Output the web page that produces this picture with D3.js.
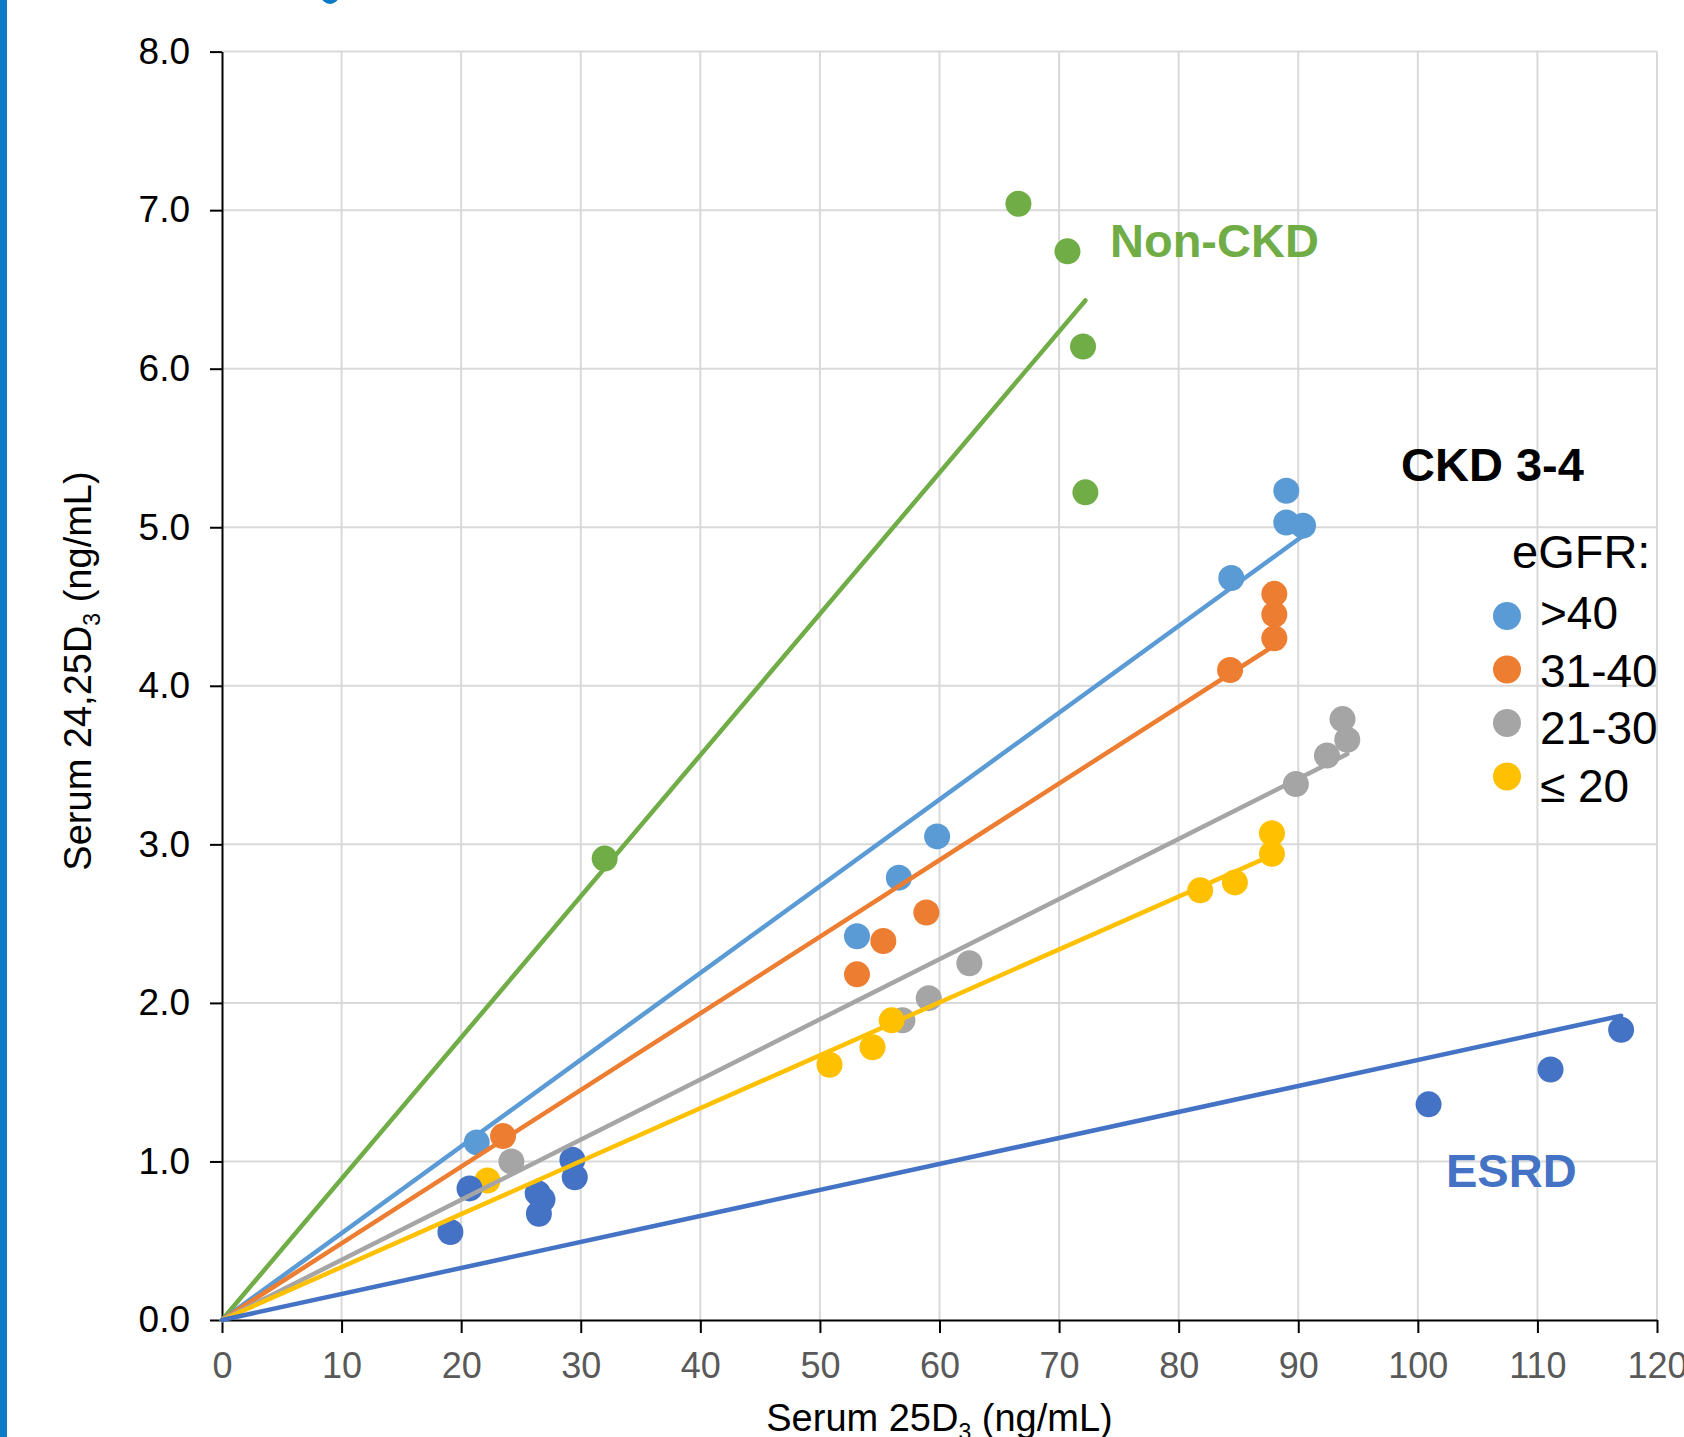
<!DOCTYPE html>
<html>
<head>
<meta charset="utf-8">
<script src="https://cdn.jsdelivr.net/npm/d3@7"></script>
<style>
  html, body { margin: 0; padding: 0; background: #fff; }
  svg { display: block; font-family: "Liberation Sans", Arial, sans-serif; }
</style>
</head>
<body>
<svg id="chart" width="1684" height="1437"></svg>
<script>
// 24,25D3 vs 25D3 scatter, one trendline per group (through the origin)

var xTicks = [0, 10, 20, 30, 40, 50, 60, 70, 80, 90, 100, 110, 120];
var yTicks = [0, 1, 2, 3, 4, 5, 6, 7, 8];

var nonCkdX = [32.0, 66.6, 70.7, 72.0, 72.2];
var nonCkdY = [2.91, 7.04, 6.74, 6.14, 5.22];

var gfr40X = [21.3, 53.1, 56.6, 59.8, 84.4, 89.0, 89.0, 90.4];
var gfr40Y = [1.12, 2.42, 2.79, 3.05, 4.68, 5.23, 5.03, 5.01];

var gfr31X = [23.5, 53.1, 55.3, 58.9, 84.3, 88.0, 88.0, 88.0];
var gfr31Y = [1.16, 2.18, 2.39, 2.57, 4.10, 4.30, 4.45, 4.58];

var gfr21X = [24.2, 56.9, 59.1, 62.5, 89.8, 92.4, 93.7, 94.1];
var gfr21Y = [1.00, 1.89, 2.03, 2.25, 3.38, 3.56, 3.79, 3.66];

var gfr20X = [22.2, 50.8, 54.4, 56.0, 81.8, 84.7, 87.8, 87.8];
var gfr20Y = [0.88, 1.61, 1.72, 1.89, 2.71, 2.76, 2.94, 3.07];

var esrdX = [19.1, 20.7, 26.4, 26.8, 26.5, 29.3, 29.5, 100.9, 111.1, 117.0];
var esrdY = [0.555, 0.83, 0.80, 0.76, 0.67, 1.01, 0.90, 1.36, 1.58, 1.83];

var seriesNames = ["Non-CKD", ">40", "31-40", "21-30", "≤ 20", "ESRD"];
var seriesColors = ["#70ad47", "#5b9bd5", "#ed7d31", "#a5a5a5", "#ffc000", "#4472c4"];
var legendNames = [">40", "31-40", "21-30", "≤ 20"];
var legendColors = ["#5b9bd5", "#ed7d31", "#a5a5a5", "#ffc000"];

var seriesX = [nonCkdX, gfr40X, gfr31X, gfr21X, gfr20X, esrdX];
var seriesY = [nonCkdY, gfr40Y, gfr31Y, gfr21Y, gfr20Y, esrdY];

(function () {
  var svg = d3.select("#chart");
  var W = 1684, H = 1437;
  var izq = 222, der = 1657, arriba = 51.6, abajo = 1320;

  svg.append("rect").attr("width", W).attr("height", H).attr("fill", "#fff");
  // blue strip on the left edge and a bit of a dot peeking from above
  svg.append("rect").attr("x", 0).attr("y", 0).attr("width", 7).attr("height", H).attr("fill", "#0a7bc4");
  svg.append("circle").attr("cx", 330).attr("cy", -5).attr("r", 9).attr("fill", "#0a7bc4");

  var x = d3.scaleLinear().domain([0, 120]).range([izq, der]);
  var y = d3.scaleLinear().domain([0, 8]).range([abajo, arriba]);

  // grid
  svg.append("g").selectAll("line").data(xTicks.slice(1)).enter().append("line")
    .attr("x1", function (d) { return x(d); }).attr("x2", function (d) { return x(d); })
    .attr("y1", y(0)).attr("y2", y(8))
    .attr("stroke", "#d9d9d9").attr("stroke-width", 2);
  svg.append("g").selectAll("line").data(yTicks.slice(1)).enter().append("line")
    .attr("x1", x(0)).attr("x2", x(120))
    .attr("y1", function (d) { return y(d); }).attr("y2", function (d) { return y(d); })
    .attr("stroke", "#d9d9d9").attr("stroke-width", 2);

  // axes
  var xAxis = svg.append("g").attr("transform", "translate(0," + abajo + ")")
    .call(d3.axisBottom(x).tickValues(xTicks).tickSize(13).tickSizeOuter(0).tickPadding(19));
  xAxis.selectAll("text").attr("font-size", 36).attr("fill", "#595959")
    .attr("font-family", "Liberation Sans, Arial, sans-serif");
  var yAxis = svg.append("g").attr("transform", "translate(" + izq + ",0)")
    .call(d3.axisLeft(y).tickValues(yTicks).tickFormat(d3.format(".1f")).tickSize(12).tickSizeOuter(0).tickPadding(20));
  yAxis.selectAll("text").attr("font-size", 37).attr("fill", "#000")
    .attr("font-family", "Liberation Sans, Arial, sans-serif");
  [xAxis, yAxis].forEach(function (a) {
    a.selectAll("path, line").attr("stroke", "#000").attr("stroke-width", 2);
  });

  // points
  var pts = svg.append("g");
  seriesX.forEach(function (xs, i) {
    var datos = xs.map(function (v, j) { return [v, seriesY[i][j]]; });
    pts.append("g").selectAll("circle").data(datos).enter().append("circle")
      .attr("cx", function (d) { return x(d[0]); })
      .attr("cy", function (d) { return y(d[1]); })
      .attr("r", 13)
      .attr("fill", seriesColors[i]);
  });

  // trendlines: least squares with intercept 0, from 0 to the largest x
  var lineas = svg.append("g");
  seriesX.forEach(function (xs, i) {
    var ys = seriesY[i];
    var sxy = d3.sum(xs, function (v, j) { return v * ys[j]; });
    var sxx = d3.sum(xs, function (v) { return v * v; });
    var m = sxy / sxx;
    var xMax = d3.max(xs);
    lineas.append("line")
      .attr("x1", x(0)).attr("y1", y(0))
      .attr("x2", x(xMax)).attr("y2", y(m * xMax))
      .attr("stroke", seriesColors[i]).attr("stroke-width", 4.5)
      .attr("stroke-linecap", "round");
  });

  // group labels
  svg.append("text").attr("x", 1110).attr("y", 257).attr("font-size", 47).attr("font-weight", "bold")
    .attr("fill", seriesColors[0]).text(seriesNames[0]);
  svg.append("text").attr("x", 1401).attr("y", 481).attr("font-size", 47).attr("font-weight", "bold")
    .attr("fill", "#000").text("CKD 3-4");
  svg.append("text").attr("x", 1446).attr("y", 1187).attr("font-size", 47).attr("font-weight", "bold")
    .attr("fill", seriesColors[5]).text(seriesNames[5]);

  // legend
  svg.append("text").attr("x", 1512).attr("y", 568).attr("font-size", 47).attr("fill", "#000").text("eGFR:");
  var leg = svg.append("g").selectAll("g").data(legendNames).enter().append("g");
  leg.append("circle")
    .attr("cx", 1507)
    .attr("cy", function (d, i) { return 616 + i * 53.5; })
    .attr("r", 14)
    .attr("fill", function (d, i) { return legendColors[i]; });
  leg.append("text")
    .attr("x", 1540)
    .attr("y", function (d, i) { return 629 + i * 57.5; })
    .attr("font-size", 46).attr("fill", "#000")
    .text(function (d) { return d; });

  // axis titles
  var tx = svg.append("text").attr("x", (izq + der) / 2).attr("y", 1431)
    .attr("text-anchor", "middle").attr("font-size", 38).attr("fill", "#000");
  tx.append("tspan").text("Serum 25D");
  tx.append("tspan").attr("font-size", 23).attr("dy", 9).text("3");
  tx.append("tspan").attr("dy", -9).text(" (ng/mL)");

  var ty = svg.append("text").attr("transform", "translate(91,671) rotate(-90)")
    .attr("text-anchor", "middle").attr("font-size", 38).attr("fill", "#000");
  ty.append("tspan").text("Serum 24,25D");
  ty.append("tspan").attr("font-size", 23).attr("dy", 9).text("3");
  ty.append("tspan").attr("dy", -9).text(" (ng/mL)");
})();
</script>
</body>
</html>
